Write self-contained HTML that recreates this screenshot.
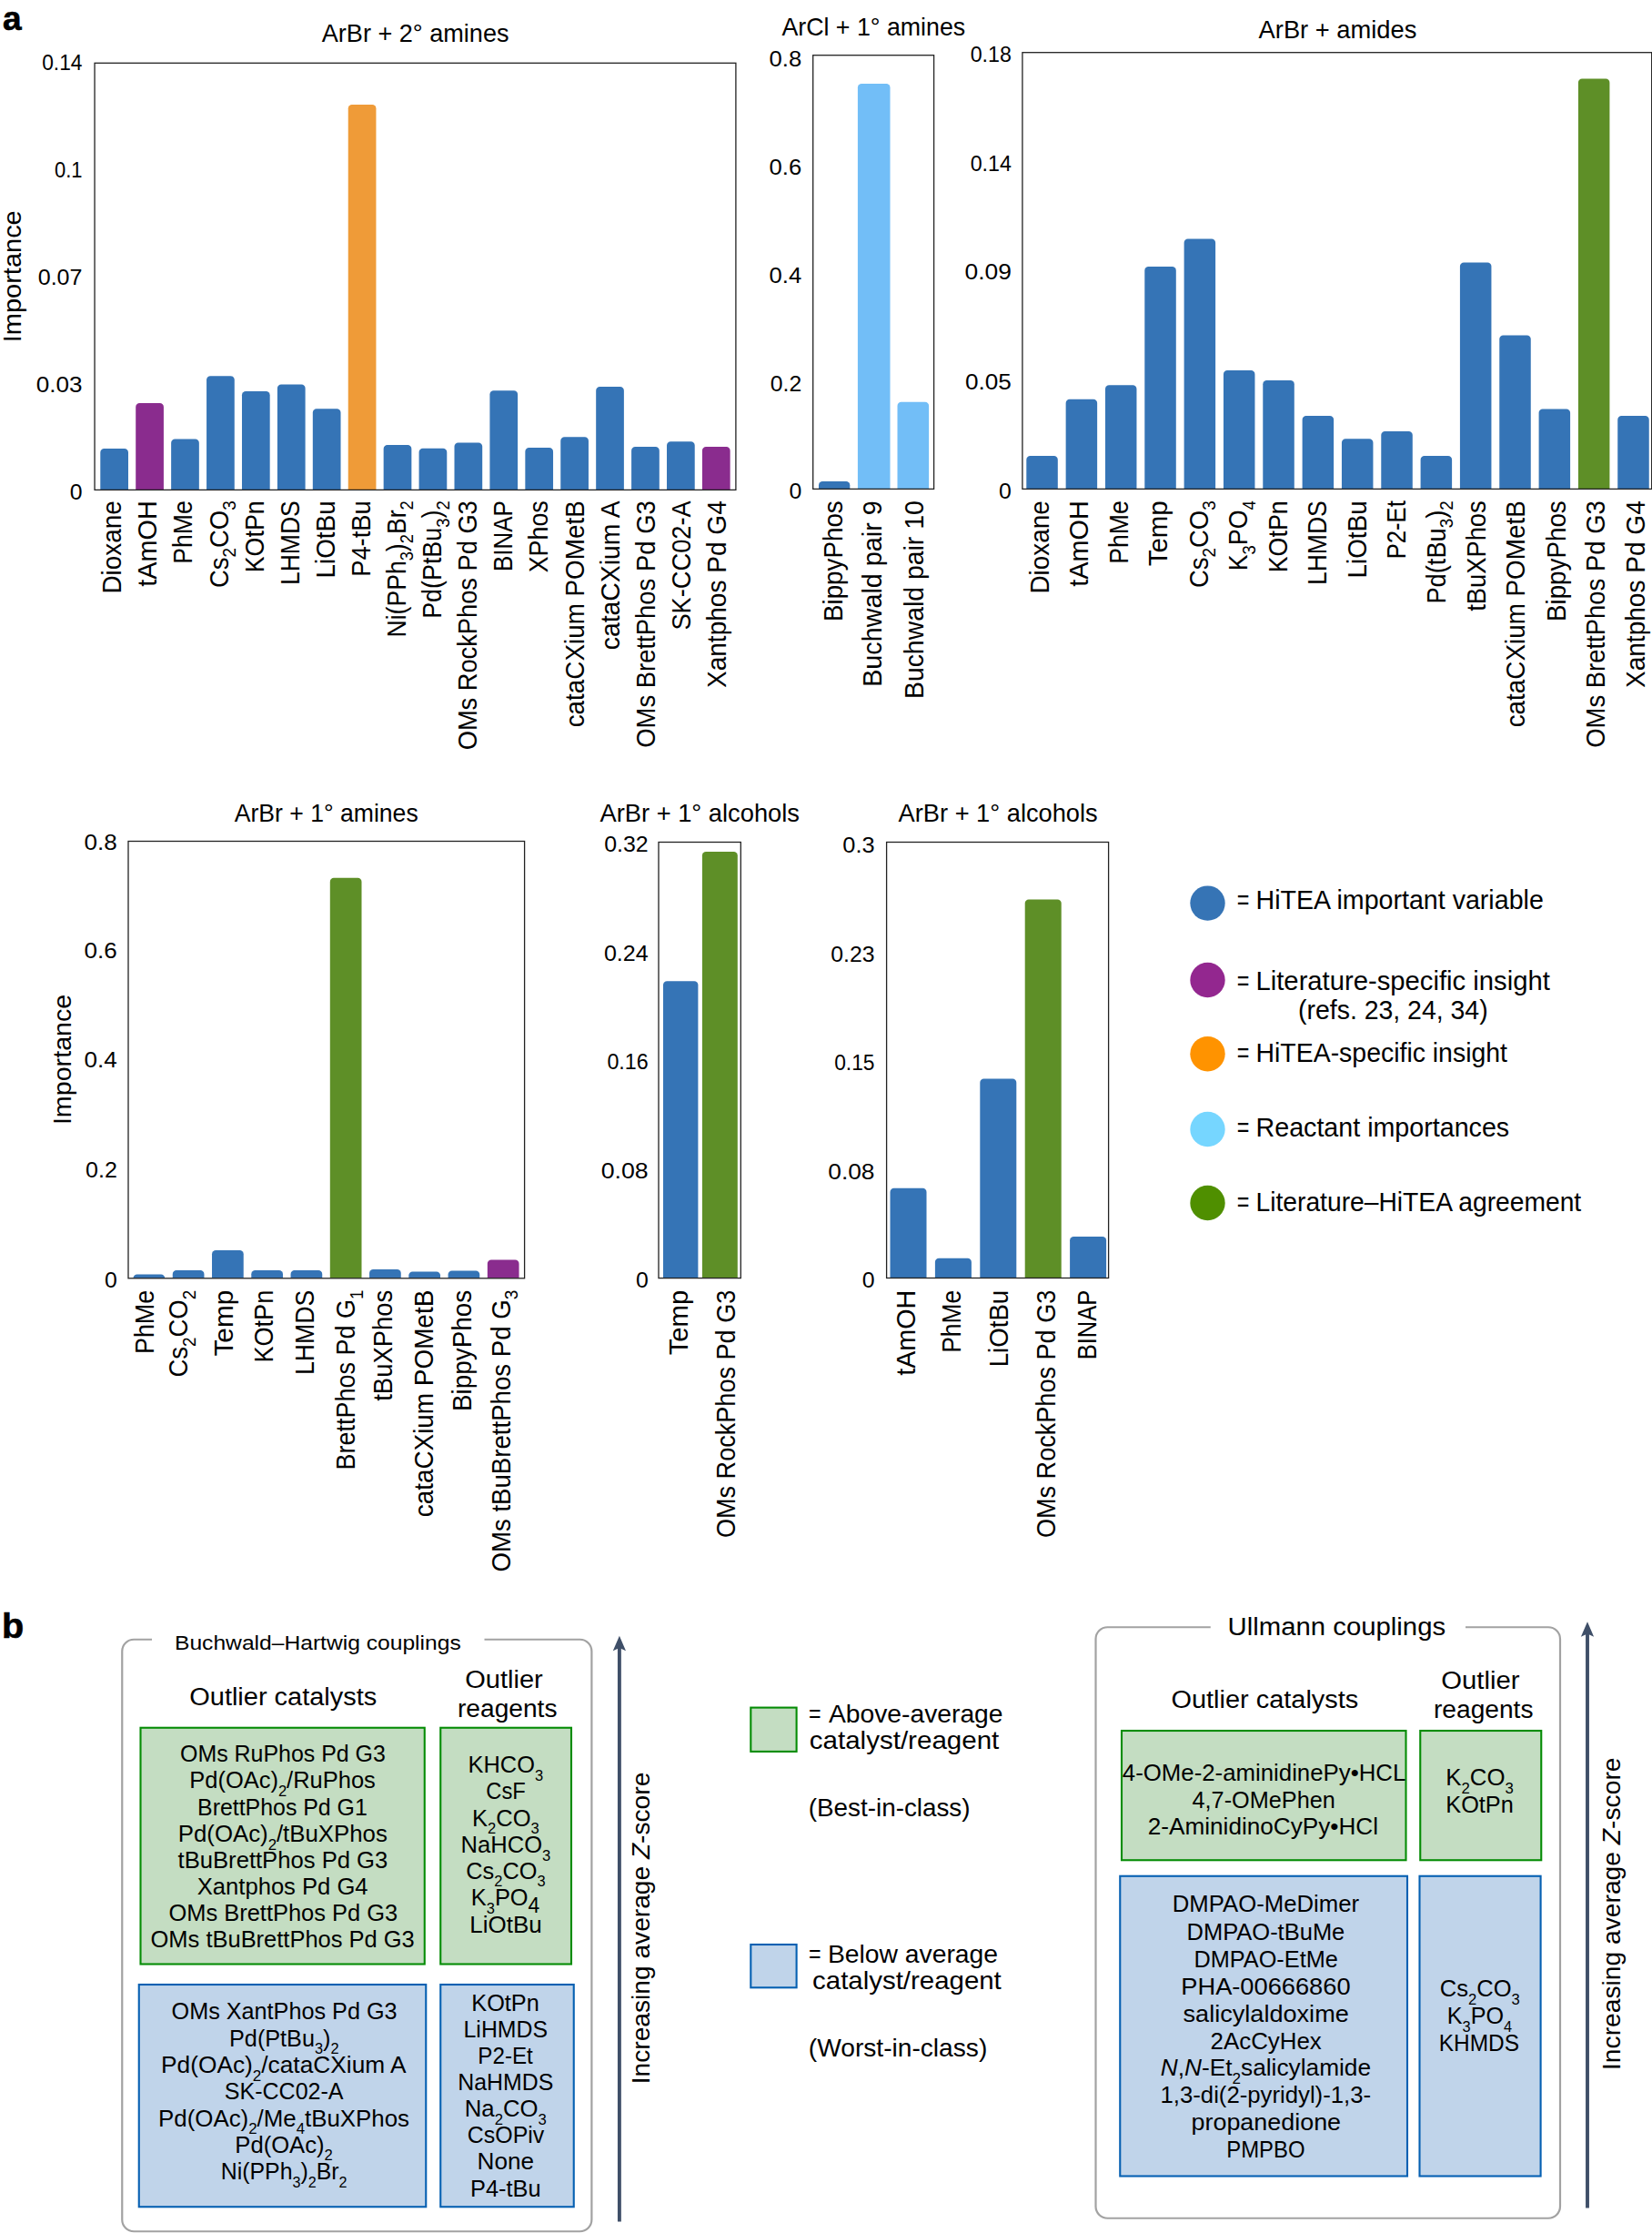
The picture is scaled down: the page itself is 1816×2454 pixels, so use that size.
<!DOCTYPE html>
<html lang="en">
<head>
<meta charset="utf-8">
<title>HiTEA variable importances and outlier catalysts/reagents</title>
<style>
html,body{margin:0;padding:0;background:#fff;}
body{width:1816px;height:2454px;overflow:hidden;}
svg{display:block;font-family:"Liberation Sans",sans-serif;}
</style>
</head>
<body>
<svg width="1816" height="2454" viewBox="0 0 1816 2454">
<rect width="1816" height="2454" fill="#fff"/>
<path d="M110.30 538.40V497.20A4.20 4.20 0 0 1 114.50 493.00H136.80A4.20 4.20 0 0 1 141.00 497.20V538.40Z" fill="#3574B6"/>
<path d="M149.22 538.40V447.20A4.20 4.20 0 0 1 153.42 443.00H175.72A4.20 4.20 0 0 1 179.92 447.20V538.40Z" fill="#8A2C8E"/>
<path d="M188.14 538.40V486.70A4.20 4.20 0 0 1 192.34 482.50H214.64A4.20 4.20 0 0 1 218.84 486.70V538.40Z" fill="#3574B6"/>
<path d="M227.06 538.40V417.45A4.20 4.20 0 0 1 231.26 413.25H253.56A4.20 4.20 0 0 1 257.76 417.45V538.40Z" fill="#3574B6"/>
<path d="M265.98 538.40V434.20A4.20 4.20 0 0 1 270.18 430.00H292.48A4.20 4.20 0 0 1 296.68 434.20V538.40Z" fill="#3574B6"/>
<path d="M304.90 538.40V426.70A4.20 4.20 0 0 1 309.10 422.50H331.40A4.20 4.20 0 0 1 335.60 426.70V538.40Z" fill="#3574B6"/>
<path d="M343.82 538.40V453.45A4.20 4.20 0 0 1 348.02 449.25H370.32A4.20 4.20 0 0 1 374.52 453.45V538.40Z" fill="#3574B6"/>
<path d="M382.74 538.40V119.20A4.20 4.20 0 0 1 386.94 115.00H409.24A4.20 4.20 0 0 1 413.44 119.20V538.40Z" fill="#EF9B38"/>
<path d="M421.66 538.40V493.20A4.20 4.20 0 0 1 425.86 489.00H448.16A4.20 4.20 0 0 1 452.36 493.20V538.40Z" fill="#3574B6"/>
<path d="M460.58 538.40V496.90A4.20 4.20 0 0 1 464.78 492.70H487.08A4.20 4.20 0 0 1 491.28 496.90V538.40Z" fill="#3574B6"/>
<path d="M499.50 538.40V490.70A4.20 4.20 0 0 1 503.70 486.50H526.00A4.20 4.20 0 0 1 530.20 490.70V538.40Z" fill="#3574B6"/>
<path d="M538.42 538.40V433.50A4.20 4.20 0 0 1 542.62 429.30H564.92A4.20 4.20 0 0 1 569.12 433.50V538.40Z" fill="#3574B6"/>
<path d="M577.34 538.40V496.20A4.20 4.20 0 0 1 581.54 492.00H603.84A4.20 4.20 0 0 1 608.04 496.20V538.40Z" fill="#3574B6"/>
<path d="M616.26 538.40V484.40A4.20 4.20 0 0 1 620.46 480.20H642.76A4.20 4.20 0 0 1 646.96 484.40V538.40Z" fill="#3574B6"/>
<path d="M655.18 538.40V429.20A4.20 4.20 0 0 1 659.38 425.00H681.68A4.20 4.20 0 0 1 685.88 429.20V538.40Z" fill="#3574B6"/>
<path d="M694.10 538.40V495.20A4.20 4.20 0 0 1 698.30 491.00H720.60A4.20 4.20 0 0 1 724.80 495.20V538.40Z" fill="#3574B6"/>
<path d="M733.02 538.40V489.40A4.20 4.20 0 0 1 737.22 485.20H759.52A4.20 4.20 0 0 1 763.72 489.40V538.40Z" fill="#3574B6"/>
<path d="M771.94 538.40V495.20A4.20 4.20 0 0 1 776.14 491.00H798.44A4.20 4.20 0 0 1 802.64 495.20V538.40Z" fill="#8A2C8E"/>
<rect x="104.05" y="69.30" width="704.85" height="469.10" fill="none" stroke="#222" stroke-width="1.30"/>
<text x="353.75" y="46.25" font-size="27.30" fill="#000" textLength="205.75" lengthAdjust="spacingAndGlyphs">ArBr + 2° amines</text>
<text x="46.20" y="77.05" font-size="23.50" fill="#000" textLength="44.30" lengthAdjust="spacingAndGlyphs">0.14</text>
<text x="59.95" y="195.30" font-size="23.50" fill="#000" textLength="30.55" lengthAdjust="spacingAndGlyphs">0.1</text>
<text x="41.70" y="312.70" font-size="23.50" fill="#000" textLength="48.80" lengthAdjust="spacingAndGlyphs">0.07</text>
<text x="39.70" y="430.55" font-size="23.50" fill="#000" textLength="50.80" lengthAdjust="spacingAndGlyphs">0.03</text>
<text x="76.70" y="549.20" font-size="23.50" fill="#000" textLength="13.80" lengthAdjust="spacingAndGlyphs">0</text>
<text x="0" y="0" transform="translate(133.20 652.55) rotate(-90)" font-size="29.00" fill="#000" textLength="102.30" lengthAdjust="spacingAndGlyphs">Dioxane</text>
<text x="0" y="0" transform="translate(172.30 644.80) rotate(-90)" font-size="29.00" fill="#000" textLength="94.55" lengthAdjust="spacingAndGlyphs">tAmOH</text>
<text x="0" y="0" transform="translate(211.40 619.80) rotate(-90)" font-size="29.00" fill="#000" textLength="69.55" lengthAdjust="spacingAndGlyphs">PhMe</text>
<text x="0" y="0" transform="translate(250.50 646.05) rotate(-90)" font-size="29.00" fill="#000" textLength="95.80" lengthAdjust="spacingAndGlyphs">Cs<tspan font-size="20.01" dy="8.41">2</tspan><tspan dy="-8.41">CO</tspan><tspan font-size="20.01" dy="8.41">3</tspan></text>
<text x="0" y="0" transform="translate(289.60 629.30) rotate(-90)" font-size="29.00" fill="#000" textLength="79.05" lengthAdjust="spacingAndGlyphs">KOtPn</text>
<text x="0" y="0" transform="translate(328.70 643.05) rotate(-90)" font-size="29.00" fill="#000" textLength="92.80" lengthAdjust="spacingAndGlyphs">LHMDS</text>
<text x="0" y="0" transform="translate(367.80 635.55) rotate(-90)" font-size="29.00" fill="#000" textLength="85.30" lengthAdjust="spacingAndGlyphs">LiOtBu</text>
<text x="0" y="0" transform="translate(406.90 633.80) rotate(-90)" font-size="29.00" fill="#000" textLength="83.55" lengthAdjust="spacingAndGlyphs">P4-tBu</text>
<text x="0" y="0" transform="translate(446.00 700.55) rotate(-90)" font-size="29.00" fill="#000" textLength="150.30" lengthAdjust="spacingAndGlyphs">Ni(PPh<tspan font-size="20.01" dy="8.41">3</tspan><tspan dy="-8.41">)</tspan><tspan font-size="20.01" dy="8.41">2</tspan><tspan dy="-8.41">Br</tspan><tspan font-size="20.01" dy="8.41">2</tspan></text>
<text x="0" y="0" transform="translate(485.10 679.80) rotate(-90)" font-size="29.00" fill="#000" textLength="129.55" lengthAdjust="spacingAndGlyphs">Pd(PtBu<tspan font-size="20.01" dy="8.41">3</tspan><tspan dy="-8.41">)</tspan><tspan font-size="20.01" dy="8.41">2</tspan></text>
<text x="0" y="0" transform="translate(524.20 824.30) rotate(-90)" font-size="29.00" fill="#000" textLength="274.05" lengthAdjust="spacingAndGlyphs">OMs RockPhos Pd G3</text>
<text x="0" y="0" transform="translate(563.30 628.05) rotate(-90)" font-size="29.00" fill="#000" textLength="77.80" lengthAdjust="spacingAndGlyphs">BINAP</text>
<text x="0" y="0" transform="translate(602.40 629.30) rotate(-90)" font-size="29.00" fill="#000" textLength="79.05" lengthAdjust="spacingAndGlyphs">XPhos</text>
<text x="0" y="0" transform="translate(641.50 799.30) rotate(-90)" font-size="29.00" fill="#000" textLength="249.05" lengthAdjust="spacingAndGlyphs">cataCXium POMetB</text>
<text x="0" y="0" transform="translate(680.60 714.30) rotate(-90)" font-size="29.00" fill="#000" textLength="164.05" lengthAdjust="spacingAndGlyphs">cataCXium A</text>
<text x="0" y="0" transform="translate(719.70 821.80) rotate(-90)" font-size="29.00" fill="#000" textLength="271.55" lengthAdjust="spacingAndGlyphs">OMs BrettPhos Pd G3</text>
<text x="0" y="0" transform="translate(758.80 692.55) rotate(-90)" font-size="29.00" fill="#000" textLength="142.30" lengthAdjust="spacingAndGlyphs">SK-CC02-A</text>
<text x="0" y="0" transform="translate(797.90 756.05) rotate(-90)" font-size="29.00" fill="#000" textLength="205.80" lengthAdjust="spacingAndGlyphs">Xantphos Pd G4</text>
<text x="0" y="0" transform="translate(23.30 376.25) rotate(-90)" font-size="28.50" fill="#000" textLength="145.00" lengthAdjust="spacingAndGlyphs">Importance</text>
<path d="M900.00 537.40V533.30A4.20 4.20 0 0 1 904.20 529.10H930.10A4.20 4.20 0 0 1 934.30 533.30V537.40Z" fill="#3574B6"/>
<path d="M942.90 537.40V96.20A4.20 4.20 0 0 1 947.10 92.00H974.30A4.20 4.20 0 0 1 978.50 96.20V537.40Z" fill="#72BEF7"/>
<path d="M986.50 537.40V446.00A4.20 4.20 0 0 1 990.70 441.80H1016.90A4.20 4.20 0 0 1 1021.10 446.00V537.40Z" fill="#72BEF7"/>
<rect x="893.70" y="60.70" width="132.90" height="476.70" fill="none" stroke="#222" stroke-width="1.30"/>
<text x="859.40" y="38.90" font-size="27.30" fill="#000" textLength="201.80" lengthAdjust="spacingAndGlyphs">ArCl + 1° amines</text>
<text x="845.60" y="73.00" font-size="23.50" fill="#000" textLength="35.60" lengthAdjust="spacingAndGlyphs">0.8</text>
<text x="845.60" y="192.20" font-size="23.50" fill="#000" textLength="35.60" lengthAdjust="spacingAndGlyphs">0.6</text>
<text x="845.60" y="311.10" font-size="23.50" fill="#000" textLength="35.60" lengthAdjust="spacingAndGlyphs">0.4</text>
<text x="846.80" y="429.80" font-size="23.50" fill="#000" textLength="34.40" lengthAdjust="spacingAndGlyphs">0.2</text>
<text x="867.40" y="547.90" font-size="23.50" fill="#000" textLength="13.80" lengthAdjust="spacingAndGlyphs">0</text>
<text x="0" y="0" transform="translate(925.95 683.05) rotate(-90)" font-size="29.00" fill="#000" textLength="132.80" lengthAdjust="spacingAndGlyphs">BippyPhos</text>
<text x="0" y="0" transform="translate(968.95 754.80) rotate(-90)" font-size="29.00" fill="#000" textLength="204.55" lengthAdjust="spacingAndGlyphs">Buchwald pair 9</text>
<text x="0" y="0" transform="translate(1015.20 768.05) rotate(-90)" font-size="29.00" fill="#000" textLength="217.80" lengthAdjust="spacingAndGlyphs">Buchwald pair 10</text>
<path d="M1128.30 537.40V505.20A4.20 4.20 0 0 1 1132.50 501.00H1158.60A4.20 4.20 0 0 1 1162.80 505.20V537.40Z" fill="#3574B6"/>
<path d="M1171.63 537.40V443.00A4.20 4.20 0 0 1 1175.83 438.80H1201.93A4.20 4.20 0 0 1 1206.13 443.00V537.40Z" fill="#3574B6"/>
<path d="M1214.96 537.40V427.50A4.20 4.20 0 0 1 1219.16 423.30H1245.26A4.20 4.20 0 0 1 1249.46 427.50V537.40Z" fill="#3574B6"/>
<path d="M1258.29 537.40V297.10A4.20 4.20 0 0 1 1262.49 292.90H1288.59A4.20 4.20 0 0 1 1292.79 297.10V537.40Z" fill="#3574B6"/>
<path d="M1301.62 537.40V266.70A4.20 4.20 0 0 1 1305.82 262.50H1331.92A4.20 4.20 0 0 1 1336.12 266.70V537.40Z" fill="#3574B6"/>
<path d="M1344.95 537.40V411.20A4.20 4.20 0 0 1 1349.15 407.00H1375.25A4.20 4.20 0 0 1 1379.45 411.20V537.40Z" fill="#3574B6"/>
<path d="M1388.28 537.40V422.20A4.20 4.20 0 0 1 1392.48 418.00H1418.58A4.20 4.20 0 0 1 1422.78 422.20V537.40Z" fill="#3574B6"/>
<path d="M1431.61 537.40V461.30A4.20 4.20 0 0 1 1435.81 457.10H1461.91A4.20 4.20 0 0 1 1466.11 461.30V537.40Z" fill="#3574B6"/>
<path d="M1474.94 537.40V486.40A4.20 4.20 0 0 1 1479.14 482.20H1505.24A4.20 4.20 0 0 1 1509.44 486.40V537.40Z" fill="#3574B6"/>
<path d="M1518.27 537.40V478.10A4.20 4.20 0 0 1 1522.47 473.90H1548.57A4.20 4.20 0 0 1 1552.77 478.10V537.40Z" fill="#3574B6"/>
<path d="M1561.60 537.40V505.20A4.20 4.20 0 0 1 1565.80 501.00H1591.90A4.20 4.20 0 0 1 1596.10 505.20V537.40Z" fill="#3574B6"/>
<path d="M1604.93 537.40V292.60A4.20 4.20 0 0 1 1609.13 288.40H1635.23A4.20 4.20 0 0 1 1639.43 292.60V537.40Z" fill="#3574B6"/>
<path d="M1648.26 537.40V372.80A4.20 4.20 0 0 1 1652.46 368.60H1678.56A4.20 4.20 0 0 1 1682.76 372.80V537.40Z" fill="#3574B6"/>
<path d="M1691.59 537.40V453.80A4.20 4.20 0 0 1 1695.79 449.60H1721.89A4.20 4.20 0 0 1 1726.09 453.80V537.40Z" fill="#3574B6"/>
<path d="M1734.92 537.40V90.70A4.20 4.20 0 0 1 1739.12 86.50H1765.22A4.20 4.20 0 0 1 1769.42 90.70V537.40Z" fill="#5E8F27"/>
<path d="M1778.25 537.40V461.30A4.20 4.20 0 0 1 1782.45 457.10H1808.55A4.20 4.20 0 0 1 1812.75 461.30V537.40Z" fill="#3574B6"/>
<rect x="1123.90" y="57.70" width="691.80" height="479.70" fill="none" stroke="#222" stroke-width="1.30"/>
<text x="1383.60" y="42.10" font-size="27.30" fill="#000" textLength="173.70" lengthAdjust="spacingAndGlyphs">ArBr + amides</text>
<text x="1066.70" y="68.20" font-size="23.50" fill="#000" textLength="45.20" lengthAdjust="spacingAndGlyphs">0.18</text>
<text x="1066.70" y="188.20" font-size="23.50" fill="#000" textLength="45.20" lengthAdjust="spacingAndGlyphs">0.14</text>
<text x="1060.50" y="307.30" font-size="23.50" fill="#000" textLength="51.40" lengthAdjust="spacingAndGlyphs">0.09</text>
<text x="1061.00" y="427.70" font-size="23.50" fill="#000" textLength="50.90" lengthAdjust="spacingAndGlyphs">0.05</text>
<text x="1098.10" y="547.90" font-size="23.50" fill="#000" textLength="13.80" lengthAdjust="spacingAndGlyphs">0</text>
<text x="0" y="0" transform="translate(1152.70 652.55) rotate(-90)" font-size="29.00" fill="#000" textLength="102.30" lengthAdjust="spacingAndGlyphs">Dioxane</text>
<text x="0" y="0" transform="translate(1196.45 644.80) rotate(-90)" font-size="29.00" fill="#000" textLength="94.55" lengthAdjust="spacingAndGlyphs">tAmOH</text>
<text x="0" y="0" transform="translate(1239.70 619.80) rotate(-90)" font-size="29.00" fill="#000" textLength="69.55" lengthAdjust="spacingAndGlyphs">PhMe</text>
<text x="0" y="0" transform="translate(1283.20 622.30) rotate(-90)" font-size="29.00" fill="#000" textLength="72.05" lengthAdjust="spacingAndGlyphs">Temp</text>
<text x="0" y="0" transform="translate(1327.70 646.05) rotate(-90)" font-size="29.00" fill="#000" textLength="95.80" lengthAdjust="spacingAndGlyphs">Cs<tspan font-size="20.01" dy="8.41">2</tspan><tspan dy="-8.41">CO</tspan><tspan font-size="20.01" dy="8.41">3</tspan></text>
<text x="0" y="0" transform="translate(1371.45 627.30) rotate(-90)" font-size="29.00" fill="#000" textLength="77.05" lengthAdjust="spacingAndGlyphs">K<tspan font-size="20.01" dy="8.41">3</tspan><tspan dy="-8.41">PO</tspan><tspan font-size="20.01" dy="8.41">4</tspan></text>
<text x="0" y="0" transform="translate(1415.20 629.30) rotate(-90)" font-size="29.00" fill="#000" textLength="79.05" lengthAdjust="spacingAndGlyphs">KOtPn</text>
<text x="0" y="0" transform="translate(1458.20 643.05) rotate(-90)" font-size="29.00" fill="#000" textLength="92.80" lengthAdjust="spacingAndGlyphs">LHMDS</text>
<text x="0" y="0" transform="translate(1502.20 635.55) rotate(-90)" font-size="29.00" fill="#000" textLength="85.30" lengthAdjust="spacingAndGlyphs">LiOtBu</text>
<text x="0" y="0" transform="translate(1545.20 614.30) rotate(-90)" font-size="29.00" fill="#000" textLength="64.05" lengthAdjust="spacingAndGlyphs">P2-Et</text>
<text x="0" y="0" transform="translate(1588.95 663.55) rotate(-90)" font-size="29.00" fill="#000" textLength="113.30" lengthAdjust="spacingAndGlyphs">Pd(tBu<tspan font-size="20.01" dy="8.41">3</tspan><tspan dy="-8.41">)</tspan><tspan font-size="20.01" dy="8.41">2</tspan></text>
<text x="0" y="0" transform="translate(1632.70 671.80) rotate(-90)" font-size="29.00" fill="#000" textLength="121.55" lengthAdjust="spacingAndGlyphs">tBuXPhos</text>
<text x="0" y="0" transform="translate(1676.45 799.30) rotate(-90)" font-size="29.00" fill="#000" textLength="249.05" lengthAdjust="spacingAndGlyphs">cataCXium POMetB</text>
<text x="0" y="0" transform="translate(1721.20 683.05) rotate(-90)" font-size="29.00" fill="#000" textLength="132.80" lengthAdjust="spacingAndGlyphs">BippyPhos</text>
<text x="0" y="0" transform="translate(1764.45 821.80) rotate(-90)" font-size="29.00" fill="#000" textLength="271.55" lengthAdjust="spacingAndGlyphs">OMs BrettPhos Pd G3</text>
<text x="0" y="0" transform="translate(1808.20 756.05) rotate(-90)" font-size="29.00" fill="#000" textLength="205.80" lengthAdjust="spacingAndGlyphs">Xantphos Pd G4</text>
<path d="M146.50 1404.80V1404.60A4.20 4.20 0 0 1 150.70 1400.40H177.00A4.20 4.20 0 0 1 181.20 1404.60V1404.80Z" fill="#3574B6"/>
<path d="M189.76 1404.80V1400.30A4.20 4.20 0 0 1 193.96 1396.10H220.26A4.20 4.20 0 0 1 224.46 1400.30V1404.80Z" fill="#3574B6"/>
<path d="M233.02 1404.80V1378.20A4.20 4.20 0 0 1 237.22 1374.00H263.52A4.20 4.20 0 0 1 267.72 1378.20V1404.80Z" fill="#3574B6"/>
<path d="M276.28 1404.80V1400.30A4.20 4.20 0 0 1 280.48 1396.10H306.78A4.20 4.20 0 0 1 310.98 1400.30V1404.80Z" fill="#3574B6"/>
<path d="M319.54 1404.80V1400.30A4.20 4.20 0 0 1 323.74 1396.10H350.04A4.20 4.20 0 0 1 354.24 1400.30V1404.80Z" fill="#3574B6"/>
<path d="M362.80 1404.80V969.00A4.20 4.20 0 0 1 367.00 964.80H393.30A4.20 4.20 0 0 1 397.50 969.00V1404.80Z" fill="#5E8F27"/>
<path d="M406.06 1404.80V1399.10A4.20 4.20 0 0 1 410.26 1394.90H436.56A4.20 4.20 0 0 1 440.76 1399.10V1404.80Z" fill="#3574B6"/>
<path d="M449.32 1404.80V1401.60A4.20 4.20 0 0 1 453.52 1397.40H479.82A4.20 4.20 0 0 1 484.02 1401.60V1404.80Z" fill="#3574B6"/>
<path d="M492.58 1404.80V1400.80A4.20 4.20 0 0 1 496.78 1396.60H523.08A4.20 4.20 0 0 1 527.28 1400.80V1404.80Z" fill="#3574B6"/>
<path d="M535.84 1404.80V1388.80A4.20 4.20 0 0 1 540.04 1384.60H566.34A4.20 4.20 0 0 1 570.54 1388.80V1404.80Z" fill="#8A2C8E"/>
<rect x="141.00" y="924.50" width="435.60" height="480.30" fill="none" stroke="#222" stroke-width="1.30"/>
<text x="257.70" y="903.10" font-size="27.30" fill="#000" textLength="202.00" lengthAdjust="spacingAndGlyphs">ArBr + 1° amines</text>
<text x="92.60" y="933.50" font-size="23.50" fill="#000" textLength="36.20" lengthAdjust="spacingAndGlyphs">0.8</text>
<text x="92.60" y="1053.20" font-size="23.50" fill="#000" textLength="36.20" lengthAdjust="spacingAndGlyphs">0.6</text>
<text x="92.60" y="1173.30" font-size="23.50" fill="#000" textLength="36.20" lengthAdjust="spacingAndGlyphs">0.4</text>
<text x="94.00" y="1293.60" font-size="23.50" fill="#000" textLength="34.80" lengthAdjust="spacingAndGlyphs">0.2</text>
<text x="115.00" y="1414.90" font-size="23.50" fill="#000" textLength="13.80" lengthAdjust="spacingAndGlyphs">0</text>
<text x="0" y="0" transform="translate(168.95 1488.05) rotate(-90)" font-size="29.00" fill="#000" textLength="70.30" lengthAdjust="spacingAndGlyphs">PhMe</text>
<text x="0" y="0" transform="translate(206.45 1513.55) rotate(-90)" font-size="29.00" fill="#000" textLength="95.80" lengthAdjust="spacingAndGlyphs">Cs<tspan font-size="20.01" dy="8.41">2</tspan><tspan dy="-8.41">CO</tspan><tspan font-size="20.01" dy="8.41">2</tspan></text>
<text x="0" y="0" transform="translate(256.45 1490.55) rotate(-90)" font-size="29.00" fill="#000" textLength="72.80" lengthAdjust="spacingAndGlyphs">Temp</text>
<text x="0" y="0" transform="translate(300.20 1497.55) rotate(-90)" font-size="29.00" fill="#000" textLength="79.80" lengthAdjust="spacingAndGlyphs">KOtPn</text>
<text x="0" y="0" transform="translate(345.20 1511.05) rotate(-90)" font-size="29.00" fill="#000" textLength="93.30" lengthAdjust="spacingAndGlyphs">LHMDS</text>
<text x="0" y="0" transform="translate(390.20 1615.55) rotate(-90)" font-size="29.00" fill="#000" textLength="197.80" lengthAdjust="spacingAndGlyphs">BrettPhos Pd G<tspan font-size="20.01" dy="8.41">1</tspan></text>
<text x="0" y="0" transform="translate(431.45 1539.80) rotate(-90)" font-size="29.00" fill="#000" textLength="122.05" lengthAdjust="spacingAndGlyphs">tBuXPhos</text>
<text x="0" y="0" transform="translate(476.45 1667.30) rotate(-90)" font-size="29.00" fill="#000" textLength="249.55" lengthAdjust="spacingAndGlyphs">cataCXium POMetB</text>
<text x="0" y="0" transform="translate(517.70 1551.05) rotate(-90)" font-size="29.00" fill="#000" textLength="133.30" lengthAdjust="spacingAndGlyphs">BippyPhos</text>
<text x="0" y="0" transform="translate(560.95 1727.55) rotate(-90)" font-size="29.00" fill="#000" textLength="309.80" lengthAdjust="spacingAndGlyphs">OMs tBuBrettPhos Pd G<tspan font-size="20.01" dy="8.41">3</tspan></text>
<text x="0" y="0" transform="translate(78.10 1236.10) rotate(-90)" font-size="28.50" fill="#000" textLength="143.40" lengthAdjust="spacingAndGlyphs">Importance</text>
<path d="M729.00 1404.60V1082.40A4.20 4.20 0 0 1 733.20 1078.20H763.20A4.20 4.20 0 0 1 767.40 1082.40V1404.60Z" fill="#3574B6"/>
<path d="M771.90 1404.60V940.20A4.20 4.20 0 0 1 776.10 936.00H806.60A4.20 4.20 0 0 1 810.80 940.20V1404.60Z" fill="#5E8F27"/>
<rect x="724.00" y="925.50" width="90.30" height="479.10" fill="none" stroke="#222" stroke-width="1.30"/>
<text x="659.50" y="903.10" font-size="27.30" fill="#000" textLength="219.50" lengthAdjust="spacingAndGlyphs">ArBr + 1° alcohols</text>
<text x="664.20" y="935.80" font-size="23.50" fill="#000" textLength="48.50" lengthAdjust="spacingAndGlyphs">0.32</text>
<text x="663.90" y="1055.50" font-size="23.50" fill="#000" textLength="48.80" lengthAdjust="spacingAndGlyphs">0.24</text>
<text x="667.40" y="1175.10" font-size="23.50" fill="#000" textLength="45.30" lengthAdjust="spacingAndGlyphs">0.16</text>
<text x="660.70" y="1294.80" font-size="23.50" fill="#000" textLength="52.00" lengthAdjust="spacingAndGlyphs">0.08</text>
<text x="698.90" y="1414.90" font-size="23.50" fill="#000" textLength="13.80" lengthAdjust="spacingAndGlyphs">0</text>
<text x="0" y="0" transform="translate(755.70 1489.30) rotate(-90)" font-size="29.00" fill="#000" textLength="71.55" lengthAdjust="spacingAndGlyphs">Temp</text>
<text x="0" y="0" transform="translate(807.70 1690.05) rotate(-90)" font-size="29.00" fill="#000" textLength="272.30" lengthAdjust="spacingAndGlyphs">OMs RockPhos Pd G3</text>
<path d="M978.50 1404.50V1310.00A4.20 4.20 0 0 1 982.70 1305.80H1014.30A4.20 4.20 0 0 1 1018.50 1310.00V1404.50Z" fill="#3574B6"/>
<path d="M1027.90 1404.50V1387.00A4.20 4.20 0 0 1 1032.10 1382.80H1063.70A4.20 4.20 0 0 1 1067.90 1387.00V1404.50Z" fill="#3574B6"/>
<path d="M1077.30 1404.50V1189.70A4.20 4.20 0 0 1 1081.50 1185.50H1113.10A4.20 4.20 0 0 1 1117.30 1189.70V1404.50Z" fill="#3574B6"/>
<path d="M1126.70 1404.50V992.60A4.20 4.20 0 0 1 1130.90 988.40H1162.50A4.20 4.20 0 0 1 1166.70 992.60V1404.50Z" fill="#5E8F27"/>
<path d="M1176.10 1404.50V1363.30A4.20 4.20 0 0 1 1180.30 1359.10H1211.90A4.20 4.20 0 0 1 1216.10 1363.30V1404.50Z" fill="#3574B6"/>
<rect x="974.60" y="925.50" width="244.00" height="479.00" fill="none" stroke="#222" stroke-width="1.30"/>
<text x="987.60" y="903.10" font-size="27.30" fill="#000" textLength="219.10" lengthAdjust="spacingAndGlyphs">ArBr + 1° alcohols</text>
<text x="926.30" y="937.30" font-size="23.50" fill="#000" textLength="35.20" lengthAdjust="spacingAndGlyphs">0.3</text>
<text x="913.30" y="1057.20" font-size="23.50" fill="#000" textLength="48.20" lengthAdjust="spacingAndGlyphs">0.23</text>
<text x="917.20" y="1176.30" font-size="23.50" fill="#000" textLength="44.30" lengthAdjust="spacingAndGlyphs">0.15</text>
<text x="910.30" y="1295.50" font-size="23.50" fill="#000" textLength="51.20" lengthAdjust="spacingAndGlyphs">0.08</text>
<text x="947.70" y="1414.90" font-size="23.50" fill="#000" textLength="13.80" lengthAdjust="spacingAndGlyphs">0</text>
<text x="0" y="0" transform="translate(1006.45 1511.80) rotate(-90)" font-size="29.00" fill="#000" textLength="94.05" lengthAdjust="spacingAndGlyphs">tAmOH</text>
<text x="0" y="0" transform="translate(1056.45 1486.80) rotate(-90)" font-size="29.00" fill="#000" textLength="69.05" lengthAdjust="spacingAndGlyphs">PhMe</text>
<text x="0" y="0" transform="translate(1107.70 1502.30) rotate(-90)" font-size="29.00" fill="#000" textLength="84.55" lengthAdjust="spacingAndGlyphs">LiOtBu</text>
<text x="0" y="0" transform="translate(1160.20 1690.05) rotate(-90)" font-size="29.00" fill="#000" textLength="272.30" lengthAdjust="spacingAndGlyphs">OMs RockPhos Pd G3</text>
<text x="0" y="0" transform="translate(1205.20 1494.30) rotate(-90)" font-size="29.00" fill="#000" textLength="76.55" lengthAdjust="spacingAndGlyphs">BINAP</text>
<text x="2.90" y="33.30" font-size="37.50" fill="#000" font-weight="bold" textLength="20.60" lengthAdjust="spacingAndGlyphs" stroke="#000" stroke-width="0.6">a</text>
<text x="1.90" y="1800.00" font-size="38.00" fill="#000" font-weight="bold" textLength="24.20" lengthAdjust="spacingAndGlyphs" stroke="#000" stroke-width="0.6">b</text>
<circle cx="1327.5" cy="992.60" r="19.2" fill="#3674B5"/>
<circle cx="1327.5" cy="1077.00" r="19.2" fill="#93278F"/>
<circle cx="1327.5" cy="1158.20" r="19.2" fill="#FF9300"/>
<circle cx="1327.5" cy="1241.00" r="19.2" fill="#76D6FF"/>
<circle cx="1327.5" cy="1322.00" r="19.2" fill="#4F8F00"/>
<text x="1359.70" y="999.40" font-size="28.80" fill="#000" textLength="13.60" lengthAdjust="spacingAndGlyphs">=</text>
<text x="1380.50" y="999.40" font-size="28.80" fill="#000" textLength="316.30" lengthAdjust="spacingAndGlyphs">HiTEA important variable</text>
<text x="1359.70" y="1087.50" font-size="28.80" fill="#000" textLength="13.60" lengthAdjust="spacingAndGlyphs">=</text>
<text x="1380.50" y="1087.50" font-size="28.80" fill="#000" textLength="323.30" lengthAdjust="spacingAndGlyphs">Literature-specific insight</text>
<text x="1359.70" y="1167.20" font-size="28.80" fill="#000" textLength="13.60" lengthAdjust="spacingAndGlyphs">=</text>
<text x="1380.50" y="1167.20" font-size="28.80" fill="#000" textLength="276.50" lengthAdjust="spacingAndGlyphs">HiTEA-specific insight</text>
<text x="1359.70" y="1249.30" font-size="28.80" fill="#000" textLength="13.60" lengthAdjust="spacingAndGlyphs">=</text>
<text x="1380.50" y="1249.30" font-size="28.80" fill="#000" textLength="278.70" lengthAdjust="spacingAndGlyphs">Reactant importances</text>
<text x="1359.70" y="1330.50" font-size="28.80" fill="#000" textLength="13.60" lengthAdjust="spacingAndGlyphs">=</text>
<text x="1380.50" y="1330.50" font-size="28.80" fill="#000" textLength="357.70" lengthAdjust="spacingAndGlyphs">Literature–HiTEA agreement</text>
<text x="1427.10" y="1120.30" font-size="28.80" fill="#000" textLength="208.50" lengthAdjust="spacingAndGlyphs">(refs. 23, 24, 34)</text>
<path d="M532.50 1801.75H637.40A13 13 0 0 1 650.40 1814.75V2439.25A13 13 0 0 1 637.40 2452.25H147.25A13 13 0 0 1 134.25 2439.25V1814.75A13 13 0 0 1 147.25 1801.75H167.00" fill="none" stroke="#a2a2a2" stroke-width="2.2"/>
<text x="192.00" y="1813.00" font-size="22.70" fill="#000" textLength="314.75" lengthAdjust="spacingAndGlyphs">Buchwald–Hartwig couplings</text>
<text x="208.25" y="1873.75" font-size="28.40" fill="#000" textLength="206.00" lengthAdjust="spacingAndGlyphs">Outlier catalysts</text>
<text x="511.25" y="1855.00" font-size="28.40" fill="#000" textLength="85.50" lengthAdjust="spacingAndGlyphs">Outlier</text>
<text x="503.00" y="1887.00" font-size="28.40" fill="#000" textLength="109.50" lengthAdjust="spacingAndGlyphs">reagents</text>
<rect x="154.50" y="1898.75" width="312.25" height="259.75" fill="#C4DDC2" stroke="#058C05" stroke-width="2.1"/>
<rect x="484.25" y="1898.75" width="143.75" height="259.75" fill="#C4DDC2" stroke="#058C05" stroke-width="2.1"/>
<rect x="152.75" y="2181.00" width="315.50" height="244.25" fill="#C0D4EA" stroke="#0560B2" stroke-width="2.1"/>
<rect x="484.25" y="2181.00" width="146.50" height="244.25" fill="#C0D4EA" stroke="#0560B2" stroke-width="2.1"/>
<text x="198.05" y="1935.80" font-size="26.10" fill="#000" textLength="225.75" lengthAdjust="spacingAndGlyphs">OMs RuPhos Pd G3</text>
<text x="208.30" y="1965.30" font-size="26.10" fill="#000" textLength="204.50" lengthAdjust="spacingAndGlyphs">Pd(OAc)<tspan font-size="16.96" dy="8.87">2</tspan><tspan dy="-8.87">/RuPhos</tspan></text>
<text x="217.05" y="1994.55" font-size="26.10" fill="#000" textLength="186.75" lengthAdjust="spacingAndGlyphs">BrettPhos Pd G1</text>
<text x="195.80" y="2023.80" font-size="26.10" fill="#000" textLength="230.00" lengthAdjust="spacingAndGlyphs">Pd(OAc)<tspan font-size="16.96" dy="8.87">2</tspan><tspan dy="-8.87">/tBuXPhos</tspan></text>
<text x="195.55" y="2052.80" font-size="26.10" fill="#000" textLength="230.75" lengthAdjust="spacingAndGlyphs">tBuBrettPhos Pd G3</text>
<text x="216.80" y="2082.05" font-size="26.10" fill="#000" textLength="187.75" lengthAdjust="spacingAndGlyphs">Xantphos Pd G4</text>
<text x="185.55" y="2111.05" font-size="26.10" fill="#000" textLength="251.50" lengthAdjust="spacingAndGlyphs">OMs BrettPhos Pd G3</text>
<text x="165.55" y="2140.30" font-size="26.10" fill="#000" textLength="290.25" lengthAdjust="spacingAndGlyphs">OMs tBuBrettPhos Pd G3</text>
<text x="514.55" y="1948.30" font-size="26.10" fill="#000" textLength="82.50" lengthAdjust="spacingAndGlyphs">KHCO<tspan font-size="16.96" dy="8.87">3</tspan></text>
<text x="534.30" y="1977.05" font-size="26.10" fill="#000" textLength="43.50" lengthAdjust="spacingAndGlyphs">CsF</text>
<text x="519.05" y="2006.55" font-size="26.10" fill="#000" textLength="73.75" lengthAdjust="spacingAndGlyphs">K<tspan font-size="16.96" dy="8.87">2</tspan><tspan dy="-8.87">CO</tspan><tspan font-size="16.96" dy="8.87">3</tspan></text>
<text x="506.55" y="2035.80" font-size="26.10" fill="#000" textLength="98.75" lengthAdjust="spacingAndGlyphs">NaHCO<tspan font-size="16.96" dy="8.87">3</tspan></text>
<text x="512.30" y="2064.55" font-size="26.10" fill="#000" textLength="87.25" lengthAdjust="spacingAndGlyphs">Cs<tspan font-size="16.96" dy="8.87">2</tspan><tspan dy="-8.87">CO</tspan><tspan font-size="16.96" dy="8.87">3</tspan></text>
<text x="517.80" y="2093.80" font-size="26.10" fill="#000" textLength="75.50" lengthAdjust="spacingAndGlyphs">K<tspan font-size="16.96" dy="8.87">3</tspan><tspan dy="-8.87">PO</tspan><tspan font-size="23.49" dy="8.35">4</tspan></text>
<text x="516.30" y="2123.55" font-size="26.10" fill="#000" textLength="79.50" lengthAdjust="spacingAndGlyphs">LiOtBu</text>
<text x="188.55" y="2219.05" font-size="26.10" fill="#000" textLength="248.00" lengthAdjust="spacingAndGlyphs">OMs XantPhos Pd G3</text>
<text x="252.05" y="2248.55" font-size="26.10" fill="#000" textLength="120.50" lengthAdjust="spacingAndGlyphs">Pd(PtBu<tspan font-size="16.96" dy="8.87">3</tspan><tspan dy="-8.87">)</tspan><tspan font-size="16.96" dy="8.87">2</tspan></text>
<text x="177.05" y="2278.05" font-size="26.10" fill="#000" textLength="269.50" lengthAdjust="spacingAndGlyphs">Pd(OAc)<tspan font-size="16.96" dy="8.87">2</tspan><tspan dy="-8.87">/cataCXium A</tspan></text>
<text x="246.80" y="2306.80" font-size="26.10" fill="#000" textLength="130.75" lengthAdjust="spacingAndGlyphs">SK-CC02-A</text>
<text x="174.05" y="2336.55" font-size="26.10" fill="#000" textLength="276.00" lengthAdjust="spacingAndGlyphs">Pd(OAc)<tspan font-size="16.96" dy="8.87">2</tspan><tspan dy="-8.87">/Me</tspan><tspan font-size="16.96" dy="8.87">4</tspan><tspan dy="-8.87">tBuXPhos</tspan></text>
<text x="258.30" y="2365.55" font-size="26.10" fill="#000" textLength="107.50" lengthAdjust="spacingAndGlyphs">Pd(OAc)<tspan font-size="16.96" dy="8.87">2</tspan></text>
<text x="242.80" y="2394.80" font-size="26.10" fill="#000" textLength="138.75" lengthAdjust="spacingAndGlyphs">Ni(PPh<tspan font-size="16.96" dy="8.87">3</tspan><tspan dy="-8.87">)</tspan><tspan font-size="16.96" dy="8.87">2</tspan><tspan dy="-8.87">Br</tspan><tspan font-size="16.96" dy="8.87">2</tspan></text>
<text x="518.30" y="2209.80" font-size="26.10" fill="#000" textLength="74.50" lengthAdjust="spacingAndGlyphs">KOtPn</text>
<text x="509.55" y="2239.05" font-size="26.10" fill="#000" textLength="92.50" lengthAdjust="spacingAndGlyphs">LiHMDS</text>
<text x="525.30" y="2268.05" font-size="26.10" fill="#000" textLength="60.50" lengthAdjust="spacingAndGlyphs">P2-Et</text>
<text x="503.30" y="2297.30" font-size="26.10" fill="#000" textLength="105.00" lengthAdjust="spacingAndGlyphs">NaHMDS</text>
<text x="510.80" y="2326.05" font-size="26.10" fill="#000" textLength="90.00" lengthAdjust="spacingAndGlyphs">Na<tspan font-size="16.96" dy="8.87">2</tspan><tspan dy="-8.87">CO</tspan><tspan font-size="16.96" dy="8.87">3</tspan></text>
<text x="513.80" y="2355.30" font-size="26.10" fill="#000" textLength="84.50" lengthAdjust="spacingAndGlyphs">CsOPiv</text>
<text x="524.55" y="2384.30" font-size="26.10" fill="#000" textLength="62.50" lengthAdjust="spacingAndGlyphs">None</text>
<text x="517.05" y="2413.55" font-size="26.10" fill="#000" textLength="77.50" lengthAdjust="spacingAndGlyphs">P4-tBu</text>
<path d="M680.90 2441.50V1809.70" stroke="#3F4F68" stroke-width="3.9" fill="none"/>
<path d="M680.90 1797.70L688.00 1814.30L680.90 1811.10L673.80 1814.30Z" fill="#3F4F68"/>
<text x="0" y="0" transform="translate(714.40 2290.20) rotate(-90)" font-size="27.90" fill="#000" textLength="342.50" lengthAdjust="spacingAndGlyphs">Increasing average <tspan font-style="italic">Z</tspan>-score</text>
<rect x="825.30" y="1876.60" width="50.30" height="48.30" fill="#C4DDC2" stroke="#058C05" stroke-width="2.1"/>
<rect x="825.30" y="2137.00" width="50.30" height="47.30" fill="#C0D4EA" stroke="#0560B2" stroke-width="2.1"/>
<text x="889.10" y="1893.00" font-size="27.20" fill="#000" textLength="13.60" lengthAdjust="spacingAndGlyphs">=</text>
<text x="910.90" y="1893.00" font-size="27.20" fill="#000" textLength="191.65" lengthAdjust="spacingAndGlyphs">Above-average</text>
<text x="889.80" y="1922.25" font-size="27.20" fill="#000" textLength="208.50" lengthAdjust="spacingAndGlyphs">catalyst/reagent</text>
<text x="888.80" y="1995.60" font-size="27.20" fill="#000" textLength="177.75" lengthAdjust="spacingAndGlyphs">(Best-in-class)</text>
<text x="889.10" y="2156.75" font-size="27.20" fill="#000" textLength="13.60" lengthAdjust="spacingAndGlyphs">=</text>
<text x="909.90" y="2156.75" font-size="27.20" fill="#000" textLength="187.15" lengthAdjust="spacingAndGlyphs">Below average</text>
<text x="893.05" y="2186.00" font-size="27.20" fill="#000" textLength="207.75" lengthAdjust="spacingAndGlyphs">catalyst/reagent</text>
<text x="888.80" y="2259.70" font-size="27.20" fill="#000" textLength="196.50" lengthAdjust="spacingAndGlyphs">(Worst-in-class)</text>
<path d="M1611.00 1788.25H1702.00A13 13 0 0 1 1715.00 1801.25V2424.75A13 13 0 0 1 1702.00 2437.75H1217.50A13 13 0 0 1 1204.50 2424.75V1801.25A13 13 0 0 1 1217.50 1788.25H1330.75" fill="none" stroke="#a2a2a2" stroke-width="2.2"/>
<text x="1349.60" y="1797.20" font-size="27.70" fill="#000" textLength="239.50" lengthAdjust="spacingAndGlyphs">Ullmann couplings</text>
<text x="1287.50" y="1877.00" font-size="28.40" fill="#000" textLength="205.75" lengthAdjust="spacingAndGlyphs">Outlier catalysts</text>
<text x="1584.25" y="1855.50" font-size="28.40" fill="#000" textLength="86.25" lengthAdjust="spacingAndGlyphs">Outlier</text>
<text x="1576.00" y="1887.50" font-size="28.40" fill="#000" textLength="109.50" lengthAdjust="spacingAndGlyphs">reagents</text>
<rect x="1233.00" y="1902.00" width="312.50" height="142.25" fill="#C4DDC2" stroke="#058C05" stroke-width="2.1"/>
<rect x="1561.25" y="1902.00" width="133.00" height="142.25" fill="#C4DDC2" stroke="#058C05" stroke-width="2.1"/>
<rect x="1231.25" y="2061.75" width="315.75" height="329.75" fill="#C0D4EA" stroke="#0560B2" stroke-width="2.1"/>
<rect x="1560.50" y="2061.75" width="133.10" height="329.75" fill="#C0D4EA" stroke="#0560B2" stroke-width="2.1"/>
<text x="1233.80" y="1957.05" font-size="26.10" fill="#000" textLength="311.50" lengthAdjust="spacingAndGlyphs">4-OMe-2-aminidinePy•HCL</text>
<text x="1310.55" y="1986.55" font-size="26.10" fill="#000" textLength="157.25" lengthAdjust="spacingAndGlyphs">4,7-OMePhen</text>
<text x="1261.80" y="2016.30" font-size="26.10" fill="#000" textLength="253.25" lengthAdjust="spacingAndGlyphs">2-AminidinoCyPy•HCl</text>
<text x="1589.30" y="1962.05" font-size="26.10" fill="#000" textLength="74.50" lengthAdjust="spacingAndGlyphs">K<tspan font-size="16.96" dy="8.87">2</tspan><tspan dy="-8.87">CO</tspan><tspan font-size="16.96" dy="8.87">3</tspan></text>
<text x="1589.30" y="1992.05" font-size="26.10" fill="#000" textLength="74.50" lengthAdjust="spacingAndGlyphs">KOtPn</text>
<text x="1288.80" y="2100.80" font-size="26.10" fill="#000" textLength="205.25" lengthAdjust="spacingAndGlyphs">DMPAO-MeDimer</text>
<text x="1304.55" y="2131.55" font-size="26.10" fill="#000" textLength="173.75" lengthAdjust="spacingAndGlyphs">DMPAO-tBuMe</text>
<text x="1312.55" y="2161.55" font-size="26.10" fill="#000" textLength="158.25" lengthAdjust="spacingAndGlyphs">DMPAO-EtMe</text>
<text x="1298.30" y="2191.55" font-size="26.10" fill="#000" textLength="186.25" lengthAdjust="spacingAndGlyphs">PHA-00666860</text>
<text x="1300.55" y="2221.55" font-size="26.10" fill="#000" textLength="182.25" lengthAdjust="spacingAndGlyphs">salicylaldoxime</text>
<text x="1330.55" y="2251.55" font-size="26.10" fill="#000" textLength="122.25" lengthAdjust="spacingAndGlyphs">2AcCyHex</text>
<text x="1275.80" y="2281.05" font-size="26.10" fill="#000" textLength="231.25" lengthAdjust="spacingAndGlyphs"><tspan font-style="italic">N</tspan>,<tspan font-style="italic">N</tspan>-Et<tspan font-size="16.96" dy="8.87">2</tspan><tspan dy="-8.87">salicylamide</tspan></text>
<text x="1275.55" y="2311.05" font-size="26.10" fill="#000" textLength="231.50" lengthAdjust="spacingAndGlyphs">1,3-di(2-pyridyl)-1,3-</text>
<text x="1309.55" y="2341.05" font-size="26.10" fill="#000" textLength="164.50" lengthAdjust="spacingAndGlyphs">propanedione</text>
<text x="1348.30" y="2371.05" font-size="26.10" fill="#000" textLength="86.25" lengthAdjust="spacingAndGlyphs">PMPBO</text>
<text x="1582.80" y="2194.30" font-size="26.10" fill="#000" textLength="88.00" lengthAdjust="spacingAndGlyphs">Cs<tspan font-size="16.96" dy="8.87">2</tspan><tspan dy="-8.87">CO</tspan><tspan font-size="16.96" dy="8.87">3</tspan></text>
<text x="1590.80" y="2224.05" font-size="26.10" fill="#000" textLength="71.25" lengthAdjust="spacingAndGlyphs">K<tspan font-size="16.96" dy="8.87">3</tspan><tspan dy="-8.87">PO</tspan><tspan font-size="16.96" dy="8.87">4</tspan></text>
<text x="1581.80" y="2253.55" font-size="26.10" fill="#000" textLength="88.25" lengthAdjust="spacingAndGlyphs">KHMDS</text>
<path d="M1745.00 2426.50V1794.20" stroke="#3F4F68" stroke-width="3.9" fill="none"/>
<path d="M1745.00 1782.20L1752.10 1798.80L1745.00 1795.60L1737.90 1798.80Z" fill="#3F4F68"/>
<text x="0" y="0" transform="translate(1781.20 2275.00) rotate(-90)" font-size="27.90" fill="#000" textLength="343.50" lengthAdjust="spacingAndGlyphs">Increasing average <tspan font-style="italic">Z</tspan>-score</text>
</svg>
</body>
</html>
